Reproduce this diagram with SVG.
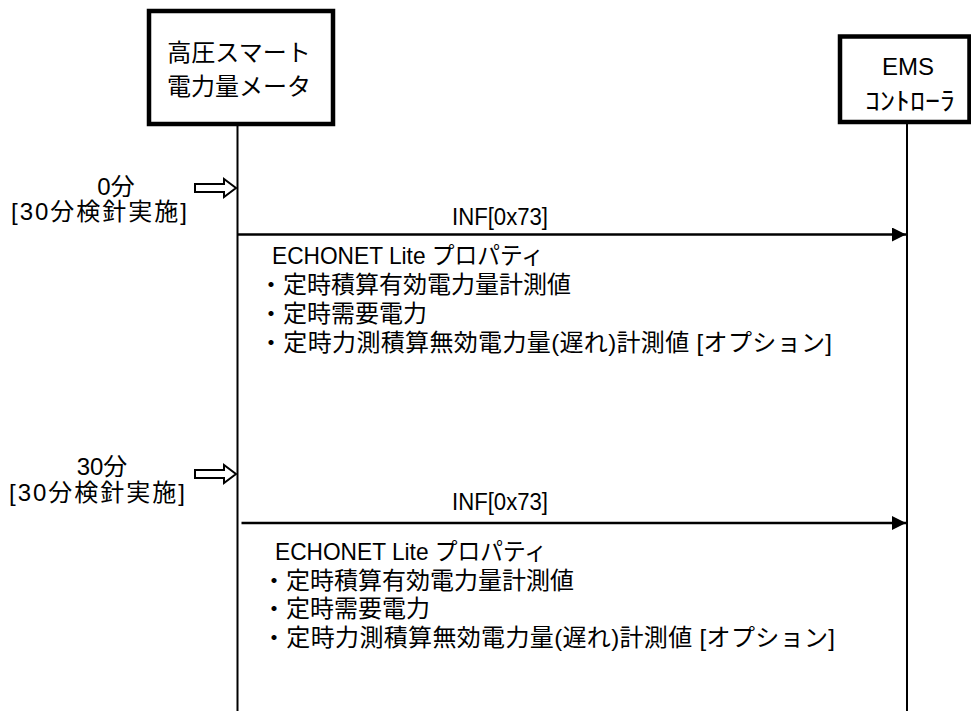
<svg xmlns="http://www.w3.org/2000/svg" width="971" height="711" viewBox="0 0 971 711">
<style>
text{font-family:"Liberation Sans","Noto Sans CJK JP",sans-serif;fill:#000}
.box{fill:#fff;stroke:#000;stroke-width:4.5}
.life{stroke:#000;stroke-width:2;fill:none}
.msg{stroke:#000;stroke-width:2.5;fill:none}
.blk{fill:#fff;stroke:#000;stroke-width:2;stroke-linejoin:miter}
.t24{font-size:24px}
.t25{font-size:25px}
.t23{font-size:23px}
.mid{text-anchor:middle}
</style>
<defs>
<marker id="ah" markerUnits="userSpaceOnUse" markerWidth="15" markerHeight="15" refX="14" refY="7" orient="auto">
<path d="M0,0 L14,7 L0,14 Z" fill="#000"/>
</marker>
</defs>
<g id="connectors">
<line class="life" x1="237.5" y1="124" x2="237.5" y2="711"/>
<line class="life" x1="907" y1="122" x2="907" y2="711"/>
<line class="msg" x1="238" y1="234.5" x2="906" y2="234.5" marker-end="url(#ah)"/>
<line class="msg" x1="241.5" y1="523" x2="906" y2="523" marker-end="url(#ah)"/>
<polygon class="blk" points="195,184 224,184 224,179 236,188 224,197 224,192 195,192"/>
<polygon class="blk" points="195,470 224,470 224,465 236,474 224,483 224,478 195,478"/>
</g>
<g id="meter">
<rect class="box" x="149" y="11" width="184" height="113"/>
<text class="t24 mid" x="239" y="61">高圧スマート</text>
<text class="t24 mid" x="239" y="95">電力量メータ</text>
</g>
<g id="ems">
<rect class="box" x="840" y="36.5" width="129.5" height="85.5"/>
<text class="t24 mid" x="908" y="75">EMS</text>
<text class="t25 mid" x="910" y="110" textLength="90" lengthAdjust="spacingAndGlyphs">ｺﾝﾄﾛｰﾗ</text>
</g>
<g id="time0">
<text class="t24 mid" x="116" y="195">0分</text>
<text class="t24 mid" x="99" y="220" textLength="176">[30分検針実施]</text>
</g>
<g id="time30">
<text class="t24 mid" x="102" y="475">30分</text>
<text class="t24 mid" x="97" y="501" textLength="176">[30分検針実施]</text>
</g>
<g id="msg1">
<text class="t23 mid" x="500" y="225" textLength="96" lengthAdjust="spacingAndGlyphs">INF[0x73]</text>
<text class="t24" x="272" y="264" textLength="272" lengthAdjust="spacingAndGlyphs">ECHONET Lite プロパティ</text>
<text class="t24" x="259" y="293">・定時積算有効電力量計測値</text>
<text class="t24" x="259" y="322">・定時需要電力</text>
<text class="t24" x="259" y="351" textLength="573">・定時力測積算無効電力量(遅れ)計測値 [オプション]</text>
</g>
<g id="msg2">
<text class="t23 mid" x="500" y="510" textLength="96" lengthAdjust="spacingAndGlyphs">INF[0x73]</text>
<text class="t24" x="275" y="560" textLength="272" lengthAdjust="spacingAndGlyphs">ECHONET Lite プロパティ</text>
<text class="t24" x="262" y="589">・定時積算有効電力量計測値</text>
<text class="t24" x="262" y="617">・定時需要電力</text>
<text class="t24" x="262" y="646" textLength="573">・定時力測積算無効電力量(遅れ)計測値 [オプション]</text>
</g>
</svg>
